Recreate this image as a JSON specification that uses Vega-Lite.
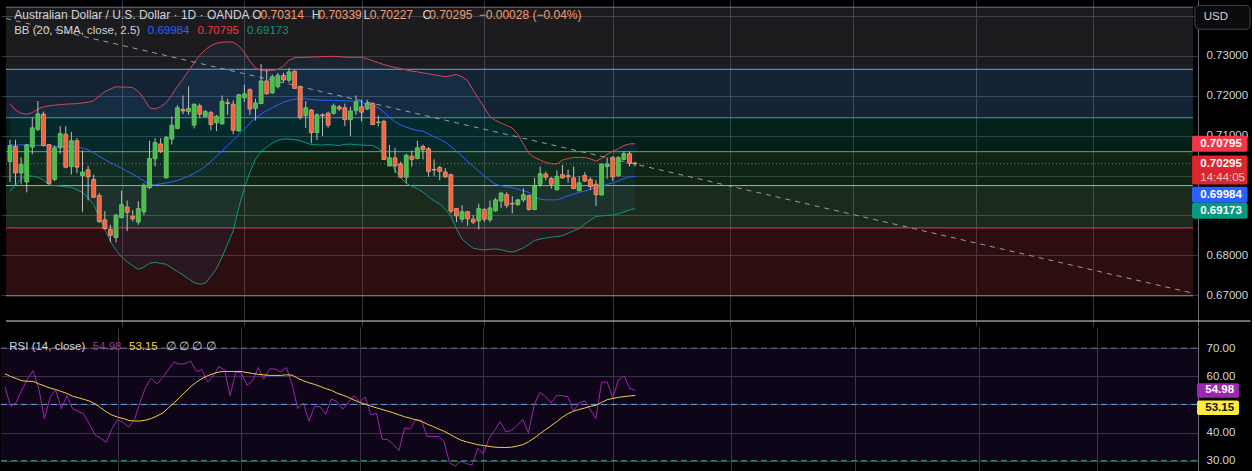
{
  "$schema": "https://vega.github.io/schema/vega-lite/v6.json",
  "background": "#000000",
  "padding": 0,
  "spacing": 1,
  "bounds": "flush",
  "config": {
    "view": {"stroke": null},
    "text": {"font": "Liberation Sans"},
    "axis": {"labelFont": "Liberation Sans"}
  },
  "datasets": {
    "bars": [
      {"t":0,"open":0.70346,"high":0.70896,"low":0.69836,"close":0.70750,"upper":0.71801,"basis":0.70762,"lower":0.69609,"rsi":56.2,"ma":60.9},
      {"t":1,"open":0.70726,"high":0.70896,"low":0.69755,"close":0.70063,"upper":0.71641,"basis":0.70762,"lower":0.69755,"rsi":49.3,"ma":59.9},
      {"t":2,"open":0.70063,"high":0.70451,"low":0.69780,"close":0.70281,"upper":0.71558,"basis":0.70767,"lower":0.69913,"rsi":50.7,"ma":59.2},
      {"t":3,"open":0.69836,"high":0.70791,"low":0.69577,"close":0.70767,"upper":0.71534,"basis":0.70767,"lower":0.69993,"rsi":55.1,"ma":58.4},
      {"t":4,"open":0.70710,"high":0.71454,"low":0.70532,"close":0.71195,"upper":0.71575,"basis":0.70762,"lower":0.69985,"rsi":59.0,"ma":58.2},
      {"t":5,"open":0.71155,"high":0.71864,"low":0.71114,"close":0.71543,"upper":0.71665,"basis":0.70757,"lower":0.69954,"rsi":62.0,"ma":58.2},
      {"t":6,"open":0.71535,"high":0.71600,"low":0.70726,"close":0.70750,"upper":0.71721,"basis":0.70750,"lower":0.69888,"rsi":55.7,"ma":57.3},
      {"t":7,"open":0.70775,"high":0.70791,"low":0.69780,"close":0.69796,"upper":0.71745,"basis":0.70743,"lower":0.69767,"rsi":45.0,"ma":56.6},
      {"t":8,"open":0.69901,"high":0.70750,"low":0.69860,"close":0.70694,"upper":0.71762,"basis":0.70733,"lower":0.69748,"rsi":52.4,"ma":55.8},
      {"t":9,"open":0.70694,"high":0.71236,"low":0.70548,"close":0.71050,"upper":0.71777,"basis":0.70726,"lower":0.69735,"rsi":55.1,"ma":55.3},
      {"t":10,"open":0.71034,"high":0.71236,"low":0.70184,"close":0.70208,"upper":0.71786,"basis":0.70726,"lower":0.69718,"rsi":48.5,"ma":54.6},
      {"t":11,"open":0.70225,"high":0.71090,"low":0.70022,"close":0.70872,"upper":0.71794,"basis":0.70718,"lower":0.69699,"rsi":53.1,"ma":53.9},
      {"t":12,"open":0.70872,"high":0.70936,"low":0.70063,"close":0.70208,"upper":0.71801,"basis":0.70709,"lower":0.69646,"rsi":48.5,"ma":52.9},
      {"t":13,"open":0.69998,"high":0.70629,"low":0.69092,"close":0.70087,"upper":0.71818,"basis":0.70689,"lower":0.69573,"rsi":47.6,"ma":52.4},
      {"t":14,"open":0.70144,"high":0.70241,"low":0.69375,"close":0.69966,"upper":0.71835,"basis":0.70641,"lower":0.69439,"rsi":46.5,"ma":51.8},
      {"t":15,"open":0.69901,"high":0.70022,"low":0.69432,"close":0.69456,"upper":0.71874,"basis":0.70568,"lower":0.69269,"rsi":43.0,"ma":51.2},
      {"t":16,"open":0.69497,"high":0.69561,"low":0.68809,"close":0.68849,"upper":0.71988,"basis":0.70483,"lower":0.68954,"rsi":39.1,"ma":50.2},
      {"t":17,"open":0.68890,"high":0.69108,"low":0.68647,"close":0.68671,"upper":0.72102,"basis":0.70398,"lower":0.68662,"rsi":38.0,"ma":48.8},
      {"t":18,"open":0.68647,"high":0.68768,"low":0.68339,"close":0.68501,"upper":0.72165,"basis":0.70325,"lower":0.68347,"rsi":36.6,"ma":47.4},
      {"t":19,"open":0.68445,"high":0.69035,"low":0.68323,"close":0.69011,"upper":0.72223,"basis":0.70252,"lower":0.68129,"rsi":41.3,"ma":46.2},
      {"t":20,"open":0.68946,"high":0.69618,"low":0.68930,"close":0.69270,"upper":0.72214,"basis":0.70180,"lower":0.67959,"rsi":44.6,"ma":45.5},
      {"t":21,"open":0.69213,"high":0.69375,"low":0.68607,"close":0.69076,"upper":0.72214,"basis":0.70107,"lower":0.67838,"rsi":43.6,"ma":45.0},
      {"t":22,"open":0.68979,"high":0.69132,"low":0.68849,"close":0.68914,"upper":0.72199,"basis":0.70034,"lower":0.67740,"rsi":41.9,"ma":44.3},
      {"t":23,"open":0.68833,"high":0.69359,"low":0.68768,"close":0.69173,"upper":0.72102,"basis":0.69949,"lower":0.67650,"rsi":44.6,"ma":44.1},
      {"t":24,"open":0.69092,"high":0.69804,"low":0.69011,"close":0.69755,"upper":0.71922,"basis":0.69864,"lower":0.67704,"rsi":50.7,"ma":44.1},
      {"t":25,"open":0.69699,"high":0.70872,"low":0.69658,"close":0.70427,"upper":0.71697,"basis":0.69779,"lower":0.67801,"rsi":56.2,"ma":44.4},
      {"t":26,"open":0.70419,"high":0.70936,"low":0.70225,"close":0.70823,"upper":0.71665,"basis":0.69767,"lower":0.67825,"rsi":59.3,"ma":45.0},
      {"t":27,"open":0.70791,"high":0.70936,"low":0.70564,"close":0.70605,"upper":0.71721,"basis":0.69791,"lower":0.67801,"rsi":57.3,"ma":45.9},
      {"t":28,"open":0.69941,"high":0.70993,"low":0.69925,"close":0.70953,"upper":0.71830,"basis":0.69815,"lower":0.67777,"rsi":59.5,"ma":46.9},
      {"t":29,"open":0.70912,"high":0.71479,"low":0.70775,"close":0.71260,"upper":0.72012,"basis":0.69840,"lower":0.67680,"rsi":62.3,"ma":48.7},
      {"t":30,"open":0.71179,"high":0.71762,"low":0.71155,"close":0.71697,"upper":0.72231,"basis":0.69876,"lower":0.67595,"rsi":65.0,"ma":50.5},
      {"t":31,"open":0.71656,"high":0.72004,"low":0.71535,"close":0.71616,"upper":0.72413,"basis":0.69925,"lower":0.67510,"rsi":64.3,"ma":52.4},
      {"t":32,"open":0.71600,"high":0.72231,"low":0.71519,"close":0.71681,"upper":0.72619,"basis":0.69985,"lower":0.67413,"rsi":64.5,"ma":54.4},
      {"t":33,"open":0.71260,"high":0.71802,"low":0.71179,"close":0.71786,"upper":0.72825,"basis":0.70058,"lower":0.67316,"rsi":65.4,"ma":56.3},
      {"t":34,"open":0.71745,"high":0.71802,"low":0.71438,"close":0.71535,"upper":0.73007,"basis":0.70131,"lower":0.67279,"rsi":61.7,"ma":57.9},
      {"t":35,"open":0.71479,"high":0.71640,"low":0.71454,"close":0.71600,"upper":0.73152,"basis":0.70228,"lower":0.67303,"rsi":62.3,"ma":59.2},
      {"t":36,"open":0.71576,"high":0.71616,"low":0.71131,"close":0.71276,"upper":0.73250,"basis":0.70349,"lower":0.67473,"rsi":57.9,"ma":60.2},
      {"t":37,"open":0.71317,"high":0.71519,"low":0.71114,"close":0.71479,"upper":0.73311,"basis":0.70483,"lower":0.67667,"rsi":60.1,"ma":60.9},
      {"t":38,"open":0.71292,"high":0.72004,"low":0.71276,"close":0.71859,"upper":0.73335,"basis":0.70616,"lower":0.67959,"rsi":63.4,"ma":61.5},
      {"t":39,"open":0.71826,"high":0.71923,"low":0.71519,"close":0.71802,"upper":0.73347,"basis":0.70750,"lower":0.68286,"rsi":62.3,"ma":61.7},
      {"t":40,"open":0.71786,"high":0.71883,"low":0.71034,"close":0.71131,"upper":0.73335,"basis":0.70884,"lower":0.68614,"rsi":53.1,"ma":61.7},
      {"t":41,"open":0.71114,"high":0.72045,"low":0.71098,"close":0.72021,"upper":0.73250,"basis":0.71017,"lower":0.69197,"rsi":61.5,"ma":61.7},
      {"t":42,"open":0.71948,"high":0.72271,"low":0.71843,"close":0.72045,"upper":0.73080,"basis":0.71163,"lower":0.69682,"rsi":61.2,"ma":61.7},
      {"t":43,"open":0.72150,"high":0.72182,"low":0.71519,"close":0.71665,"upper":0.72862,"basis":0.71309,"lower":0.70082,"rsi":56.8,"ma":61.3},
      {"t":44,"open":0.71681,"high":0.71923,"low":0.71373,"close":0.71818,"upper":0.72692,"basis":0.71442,"lower":0.70410,"rsi":58.4,"ma":61.0},
      {"t":45,"open":0.71802,"high":0.72789,"low":0.71786,"close":0.72368,"upper":0.72631,"basis":0.71539,"lower":0.70597,"rsi":63.1,"ma":60.7},
      {"t":46,"open":0.72368,"high":0.72651,"low":0.72021,"close":0.72045,"upper":0.72619,"basis":0.71624,"lower":0.70713,"rsi":59.0,"ma":60.5},
      {"t":47,"open":0.72069,"high":0.72530,"low":0.72045,"close":0.72474,"upper":0.72631,"basis":0.71697,"lower":0.70811,"rsi":62.6,"ma":60.3},
      {"t":48,"open":0.72223,"high":0.72571,"low":0.72182,"close":0.72506,"upper":0.72655,"basis":0.71770,"lower":0.70883,"rsi":62.6,"ma":60.3},
      {"t":49,"open":0.72506,"high":0.72571,"low":0.72328,"close":0.72393,"upper":0.72740,"basis":0.71835,"lower":0.70913,"rsi":61.5,"ma":60.3},
      {"t":50,"open":0.72385,"high":0.72692,"low":0.72328,"close":0.72595,"upper":0.72886,"basis":0.71879,"lower":0.70913,"rsi":63.1,"ma":60.5},
      {"t":51,"open":0.72611,"high":0.72635,"low":0.72166,"close":0.72182,"upper":0.72947,"basis":0.71908,"lower":0.70896,"rsi":57.3,"ma":60.4},
      {"t":52,"open":0.72223,"high":0.72247,"low":0.71398,"close":0.71454,"upper":0.72959,"basis":0.71920,"lower":0.70871,"rsi":48.5,"ma":59.3},
      {"t":53,"open":0.71503,"high":0.71859,"low":0.71195,"close":0.71697,"upper":0.72959,"basis":0.71920,"lower":0.70823,"rsi":50.5,"ma":58.4},
      {"t":54,"open":0.71640,"high":0.71665,"low":0.70807,"close":0.71074,"upper":0.72966,"basis":0.71903,"lower":0.70774,"rsi":44.1,"ma":57.7},
      {"t":55,"open":0.71074,"high":0.71559,"low":0.70888,"close":0.71519,"upper":0.72971,"basis":0.71891,"lower":0.70769,"rsi":49.3,"ma":57.1},
      {"t":56,"open":0.71519,"high":0.71559,"low":0.70993,"close":0.71495,"upper":0.72976,"basis":0.71884,"lower":0.70762,"rsi":49.1,"ma":56.4},
      {"t":57,"open":0.71559,"high":0.71600,"low":0.71195,"close":0.71260,"upper":0.72983,"basis":0.71884,"lower":0.70774,"rsi":46.5,"ma":55.6},
      {"t":58,"open":0.71559,"high":0.71802,"low":0.71519,"close":0.71745,"upper":0.72983,"basis":0.71879,"lower":0.70762,"rsi":52.0,"ma":55.0},
      {"t":59,"open":0.71721,"high":0.71762,"low":0.71616,"close":0.71665,"upper":0.72976,"basis":0.71876,"lower":0.70750,"rsi":50.9,"ma":54.0},
      {"t":60,"open":0.71697,"high":0.71802,"low":0.71236,"close":0.71398,"upper":0.72966,"basis":0.71871,"lower":0.70779,"rsi":48.3,"ma":53.3},
      {"t":61,"open":0.71398,"high":0.71721,"low":0.70993,"close":0.71616,"upper":0.72959,"basis":0.71866,"lower":0.70786,"rsi":50.7,"ma":52.5},
      {"t":62,"open":0.71624,"high":0.72004,"low":0.71519,"close":0.71843,"upper":0.72959,"basis":0.71859,"lower":0.70774,"rsi":53.1,"ma":51.6},
      {"t":63,"open":0.71721,"high":0.71899,"low":0.71357,"close":0.71584,"upper":0.72959,"basis":0.71830,"lower":0.70762,"rsi":50.9,"ma":50.7},
      {"t":64,"open":0.71665,"high":0.71899,"low":0.71640,"close":0.71802,"upper":0.72922,"basis":0.71794,"lower":0.70755,"rsi":52.6,"ma":50.1},
      {"t":65,"open":0.71802,"high":0.71826,"low":0.71260,"close":0.71276,"upper":0.72874,"basis":0.71757,"lower":0.70750,"rsi":46.3,"ma":49.4},
      {"t":66,"open":0.71325,"high":0.71495,"low":0.71236,"close":0.71341,"upper":0.72825,"basis":0.71697,"lower":0.70677,"rsi":46.9,"ma":48.8},
      {"t":67,"open":0.71357,"high":0.71398,"low":0.70386,"close":0.70403,"upper":0.72777,"basis":0.71587,"lower":0.70556,"rsi":37.7,"ma":48.2},
      {"t":68,"open":0.70241,"high":0.70767,"low":0.70225,"close":0.70443,"upper":0.72740,"basis":0.71454,"lower":0.70345,"rsi":37.5,"ma":47.6},
      {"t":69,"open":0.70443,"high":0.70694,"low":0.70063,"close":0.70241,"upper":0.72704,"basis":0.71345,"lower":0.70143,"rsi":35.8,"ma":47.0},
      {"t":70,"open":0.70289,"high":0.70346,"low":0.69941,"close":0.69958,"upper":0.72680,"basis":0.71272,"lower":0.69949,"rsi":33.6,"ma":46.3},
      {"t":71,"open":0.69958,"high":0.70548,"low":0.69804,"close":0.70508,"upper":0.72643,"basis":0.71211,"lower":0.69803,"rsi":41.6,"ma":45.6},
      {"t":72,"open":0.70483,"high":0.70629,"low":0.70225,"close":0.70403,"upper":0.72612,"basis":0.71163,"lower":0.69730,"rsi":41.3,"ma":45.1},
      {"t":73,"open":0.70427,"high":0.70872,"low":0.70403,"close":0.70694,"upper":0.72595,"basis":0.71126,"lower":0.69670,"rsi":44.7,"ma":44.5},
      {"t":74,"open":0.70726,"high":0.70775,"low":0.70403,"close":0.70645,"upper":0.72570,"basis":0.71109,"lower":0.69585,"rsi":44.3,"ma":44.0},
      {"t":75,"open":0.70670,"high":0.70710,"low":0.69966,"close":0.70103,"upper":0.72546,"basis":0.71041,"lower":0.69464,"rsi":38.6,"ma":43.0},
      {"t":76,"open":0.70152,"high":0.70403,"low":0.69982,"close":0.70136,"upper":0.72522,"basis":0.70968,"lower":0.69366,"rsi":38.6,"ma":42.2},
      {"t":77,"open":0.70200,"high":0.70241,"low":0.69885,"close":0.70103,"upper":0.72498,"basis":0.70908,"lower":0.69282,"rsi":38.6,"ma":41.3},
      {"t":78,"open":0.70087,"high":0.70184,"low":0.69941,"close":0.69966,"upper":0.72473,"basis":0.70835,"lower":0.69148,"rsi":36.9,"ma":40.5},
      {"t":79,"open":0.70022,"high":0.70047,"low":0.69051,"close":0.69108,"upper":0.72498,"basis":0.70726,"lower":0.68990,"rsi":29.2,"ma":39.4},
      {"t":80,"open":0.69173,"high":0.69189,"low":0.68833,"close":0.68987,"upper":0.72529,"basis":0.70604,"lower":0.68662,"rsi":28.1,"ma":38.3},
      {"t":81,"open":0.68906,"high":0.69254,"low":0.68825,"close":0.69092,"upper":0.72473,"basis":0.70483,"lower":0.68408,"rsi":29.8,"ma":37.3},
      {"t":82,"open":0.69092,"high":0.69116,"low":0.68744,"close":0.68914,"upper":0.72376,"basis":0.70349,"lower":0.68286,"rsi":28.9,"ma":36.7},
      {"t":83,"open":0.68906,"high":0.69011,"low":0.68785,"close":0.68833,"upper":0.72133,"basis":0.70228,"lower":0.68177,"rsi":28.5,"ma":36.2},
      {"t":84,"open":0.68865,"high":0.69294,"low":0.68647,"close":0.69173,"upper":0.71915,"basis":0.70107,"lower":0.68153,"rsi":34.4,"ma":35.7},
      {"t":85,"open":0.69149,"high":0.69189,"low":0.68833,"close":0.68906,"upper":0.71697,"basis":0.69985,"lower":0.68136,"rsi":32.5,"ma":35.4},
      {"t":86,"open":0.68890,"high":0.69375,"low":0.68833,"close":0.69189,"upper":0.71478,"basis":0.69876,"lower":0.68153,"rsi":38.0,"ma":35.1},
      {"t":87,"open":0.69116,"high":0.69432,"low":0.69092,"close":0.69391,"upper":0.71381,"basis":0.69779,"lower":0.68160,"rsi":40.8,"ma":34.8},
      {"t":88,"open":0.69359,"high":0.69593,"low":0.69189,"close":0.69561,"upper":0.71315,"basis":0.69743,"lower":0.68141,"rsi":43.9,"ma":34.7},
      {"t":89,"open":0.69521,"high":0.69577,"low":0.69189,"close":0.69254,"upper":0.71252,"basis":0.69718,"lower":0.68104,"rsi":40.2,"ma":34.7},
      {"t":90,"open":0.69302,"high":0.69480,"low":0.69051,"close":0.69286,"upper":0.71194,"basis":0.69694,"lower":0.68080,"rsi":40.8,"ma":34.8},
      {"t":91,"open":0.69270,"high":0.69416,"low":0.69238,"close":0.69391,"upper":0.71034,"basis":0.69658,"lower":0.68129,"rsi":42.5,"ma":35.2},
      {"t":92,"open":0.69391,"high":0.69682,"low":0.69335,"close":0.69521,"upper":0.70791,"basis":0.69621,"lower":0.68189,"rsi":44.7,"ma":35.7},
      {"t":93,"open":0.69497,"high":0.69521,"low":0.69124,"close":0.69149,"upper":0.70549,"basis":0.69573,"lower":0.68274,"rsi":39.9,"ma":36.7},
      {"t":94,"open":0.69149,"high":0.69941,"low":0.69132,"close":0.69739,"upper":0.70452,"basis":0.69464,"lower":0.68376,"rsi":49.6,"ma":38.0},
      {"t":95,"open":0.69780,"high":0.70225,"low":0.69715,"close":0.70047,"upper":0.70386,"basis":0.69408,"lower":0.68408,"rsi":54.2,"ma":39.5},
      {"t":96,"open":0.70039,"high":0.70103,"low":0.69877,"close":0.69958,"upper":0.70330,"basis":0.69391,"lower":0.68432,"rsi":52.9,"ma":41.0},
      {"t":97,"open":0.69925,"high":0.69958,"low":0.69674,"close":0.69780,"upper":0.70296,"basis":0.69391,"lower":0.68456,"rsi":50.5,"ma":42.4},
      {"t":98,"open":0.69642,"high":0.70128,"low":0.69626,"close":0.69982,"upper":0.70289,"basis":0.69391,"lower":0.68473,"rsi":53.1,"ma":43.8},
      {"t":99,"open":0.70022,"high":0.70265,"low":0.69917,"close":0.69941,"upper":0.70386,"basis":0.69439,"lower":0.68493,"rsi":53.1,"ma":45.4},
      {"t":100,"open":0.69998,"high":0.70144,"low":0.69820,"close":0.69966,"upper":0.70427,"basis":0.69495,"lower":0.68553,"rsi":52.7,"ma":46.7},
      {"t":101,"open":0.69941,"high":0.70225,"low":0.69658,"close":0.69674,"upper":0.70452,"basis":0.69536,"lower":0.68614,"rsi":47.6,"ma":47.6},
      {"t":102,"open":0.69618,"high":0.69982,"low":0.69602,"close":0.69820,"upper":0.70452,"basis":0.69578,"lower":0.68674,"rsi":50.5,"ma":48.2},
      {"t":103,"open":0.69998,"high":0.70087,"low":0.69836,"close":0.69860,"upper":0.70452,"basis":0.69609,"lower":0.68784,"rsi":51.3,"ma":48.7},
      {"t":104,"open":0.69901,"high":0.69958,"low":0.69642,"close":0.69723,"upper":0.70418,"basis":0.69651,"lower":0.68882,"rsi":48.0,"ma":49.3},
      {"t":105,"open":0.69780,"high":0.69885,"low":0.69238,"close":0.69521,"upper":0.70362,"basis":0.69694,"lower":0.68978,"rsi":45.0,"ma":49.7},
      {"t":106,"open":0.69513,"high":0.70305,"low":0.69497,"close":0.70289,"upper":0.70427,"basis":0.69731,"lower":0.68990,"rsi":57.9,"ma":50.7},
      {"t":107,"open":0.70225,"high":0.70451,"low":0.69917,"close":0.70289,"upper":0.70532,"basis":0.69779,"lower":0.69002,"rsi":57.9,"ma":51.7},
      {"t":108,"open":0.70451,"high":0.70483,"low":0.69860,"close":0.69966,"upper":0.70612,"basis":0.69815,"lower":0.69010,"rsi":52.4,"ma":52.1},
      {"t":109,"open":0.69998,"high":0.70483,"low":0.69966,"close":0.70451,"upper":0.70670,"basis":0.69864,"lower":0.69039,"rsi":58.7,"ma":52.5},
      {"t":110,"open":0.70403,"high":0.70613,"low":0.70386,"close":0.70548,"upper":0.70750,"basis":0.69925,"lower":0.69088,"rsi":60.1,"ma":52.8},
      {"t":111,"open":0.70548,"high":0.70605,"low":0.70225,"close":0.70305,"upper":0.70791,"basis":0.69961,"lower":0.69136,"rsi":55.7,"ma":53.0},
      {"t":112,"open":0.70314,"high":0.70339,"low":0.70227,"close":0.70295,"upper":0.70795,"basis":0.69984,"lower":0.69173,"rsi":54.98,"ma":53.15}
    ],
    "zones": [
      {"zone":"0-0.236","top":0.74214,"bottom":0.72660},
      {"zone":"0.236-0.382","top":0.72660,"bottom":0.71447},
      {"zone":"0.382-0.5","top":0.71447,"bottom":0.70597},
      {"zone":"0.5-0.618","top":0.70597,"bottom":0.69748},
      {"zone":"0.618-0.786","top":0.69748,"bottom":0.68687},
      {"zone":"0.786-1","top":0.68687,"bottom":0.66988}
    ],
    "levels": [
      {"level":"0","price":0.74214},
      {"level":"0.236","price":0.72660},
      {"level":"0.382","price":0.71447},
      {"level":"0.5","price":0.70597},
      {"level":"0.618","price":0.69748},
      {"level":"0.786","price":0.68687},
      {"level":"1","price":0.66988}
    ],
    "trend": [
      {"t":-0.71,"price":0.73930},
      {"t":211.97,"price":0.67053}
    ]
  },
  "data": {"name": "bars"},
  "vconcat": [
    {
      "width": 1197,
      "height": 326,
      "resolve": {"axis": {"x": "independent", "y": "independent"}},
      "layer": [
        {
          "data": {"name": "zones"},
          "mark": {"type": "rect", "fillOpacity": 0.3},
          "encoding": {
            "x": {"datum": -0.71, "type": "quantitative", "scale": {"domain": [-0.71, 211.97], "nice": false, "zero": false}, "axis": null},
            "x2": {"datum": 211.97},
            "y": {"field": "top", "type": "quantitative", "scale": {"domain": [0.66357, 0.742694], "nice": false, "zero": false},
              "axis": {"orient": "right", "values": [0.67, 0.68, 0.69, 0.70, 0.71, 0.72, 0.73, 0.74], "grid": true, "gridColor": "#37373e", "labels": false, "ticks": false, "domain": false, "title": null}},
            "y2": {"field": "bottom"},
            "fill": {"field": "zone", "type": "nominal", "legend": null,
              "scale": {"domain": ["0-0.236", "0.236-0.382", "0.382-0.5", "0.5-0.618", "0.618-0.786", "0.786-1"],
                "range": ["#5d5d64", "#4378ad", "#0d6b5a", "#32783c", "#5d8c5d", "#932b35"]}}
          }
        },
        {
          "data": {"name": "levels"},
          "mark": {"type": "rule", "strokeWidth": 1},
          "encoding": {
            "x": {"datum": -0.71, "axis": null},
            "x2": {"datum": 211.97},
            "y": {"field": "price", "type": "quantitative", "axis": null},
            "stroke": {"field": "level", "type": "nominal", "legend": null,
              "scale": {"domain": ["0", "0.236", "0.382", "0.5", "0.618", "0.786", "1"],
                "range": ["#6a7590", "#6aa6e0", "#2fa88e", "#56b35c", "#82c882", "#e0404f", "#8c8c90"]}}
          }
        },
        {
          "mark": {"type": "area", "color": "#2196f3", "opacity": 0.08},
          "encoding": {
            "x": {"field": "t", "type": "quantitative", "axis": null},
            "y": {"field": "upper", "type": "quantitative", "axis": null},
            "y2": {"field": "lower"}
          }
        },
        {
          "mark": {"type": "line", "color": "#d84457", "strokeWidth": 1},
          "encoding": {"x": {"field": "t", "type": "quantitative", "axis": null}, "y": {"field": "upper", "type": "quantitative", "axis": null}}
        },
        {
          "mark": {"type": "line", "color": "#2962ff", "strokeWidth": 1},
          "encoding": {"x": {"field": "t", "type": "quantitative", "axis": null}, "y": {"field": "basis", "type": "quantitative", "axis": null}}
        },
        {
          "mark": {"type": "line", "color": "#089981", "strokeWidth": 1},
          "encoding": {"x": {"field": "t", "type": "quantitative", "axis": null}, "y": {"field": "lower", "type": "quantitative", "axis": null}}
        },
        {
          "data": {"name": "trend"},
          "mark": {"type": "line", "color": "#9a9ca5", "strokeWidth": 1, "strokeDash": [5, 5]},
          "encoding": {
            "x": {"field": "t", "type": "quantitative", "axis": null},
            "y": {"field": "price", "type": "quantitative", "axis": null}
          }
        },
        {
          "transform": [{"filter": "datum.t === 112"}],
          "mark": {"type": "rule", "color": "#c8643c", "strokeWidth": 1, "strokeDash": [1, 2.5]},
          "encoding": {
            "x": {"datum": -0.71, "axis": null},
            "x2": {"datum": 211.97},
            "y": {"field": "close", "type": "quantitative", "axis": null}
          }
        },
        {
          "mark": {"type": "rule", "color": "#bdbdbd", "strokeWidth": 1},
          "encoding": {
            "x": {"field": "t", "type": "quantitative",
              "axis": {"orient": "bottom", "values": [20, 42, 63, 85, 108, 129, 151, 173, 194], "grid": true, "gridColor": "#37373e", "labels": false, "ticks": false, "domain": false, "title": null}},
            "y": {"field": "low", "type": "quantitative",
              "axis": {"orient": "right", "values": [0.67, 0.68, 0.71, 0.72, 0.73], "format": ".5f", "grid": false, "ticks": false, "domain": true, "domainColor": "#6a6d78", "labelColor": "#d1d4dc", "labelFontSize": 11.5, "labelPadding": 8, "title": null}},
            "y2": {"field": "high"}
          }
        },
        {
          "mark": {"type": "bar", "size": 4, "strokeWidth": 0.7},
          "encoding": {
            "x": {"field": "t", "type": "quantitative", "axis": null},
            "y": {"field": "open", "type": "quantitative", "axis": null},
            "y2": {"field": "close"},
            "fill": {"condition": {"test": "datum.close >= datum.open", "value": "#4cbb4c"}, "value": "#f0643e"},
            "stroke": {"condition": {"test": "datum.close >= datum.open", "value": "#6fd66f"}, "value": "#ffa07e"}
          }
        },
        {
          "data": {"values": [{"label": "Australian Dollar / U.S. Dollar · 1D · OANDA"}]},
          "mark": {"type": "text", "align": "left", "baseline": "alphabetic", "fontSize": 12, "color": "#d1d4dc"},
          "encoding": {"x": {"datum": 0.76, "axis": null}, "y": {"datum": 0.7393, "axis": null}, "text": {"field": "label"}}
        },
        {
          "data": {"values": [{"label": "O"}]},
          "mark": {"type": "text", "align": "left", "baseline": "alphabetic", "fontSize": 12, "color": "#d1d4dc"},
          "encoding": {"x": {"datum": 43.41, "axis": null}, "y": {"datum": 0.7393, "axis": null}, "text": {"field": "label"}}
        },
        {
          "data": {"values": [{"label": "H"}]},
          "mark": {"type": "text", "align": "left", "baseline": "alphabetic", "fontSize": 12, "color": "#d1d4dc"},
          "encoding": {"x": {"datum": 54.07, "axis": null}, "y": {"datum": 0.7393, "axis": null}, "text": {"field": "label"}}
        },
        {
          "data": {"values": [{"label": "L"}]},
          "mark": {"type": "text", "align": "left", "baseline": "alphabetic", "fontSize": 12, "color": "#d1d4dc"},
          "encoding": {"x": {"datum": 63.35, "axis": null}, "y": {"datum": 0.7393, "axis": null}, "text": {"field": "label"}}
        },
        {
          "data": {"values": [{"label": "C"}]},
          "mark": {"type": "text", "align": "left", "baseline": "alphabetic", "fontSize": 12, "color": "#d1d4dc"},
          "encoding": {"x": {"datum": 73.92, "axis": null}, "y": {"datum": 0.7393, "axis": null}, "text": {"field": "label"}}
        },
        {
          "transform": [{"filter": "datum.t === 112"}],
          "mark": {"type": "text", "align": "left", "baseline": "alphabetic", "fontSize": 12, "color": "#f49a6e"},
          "encoding": {"x": {"datum": 44.9, "axis": null}, "y": {"datum": 0.7393, "axis": null}, "text": {"field": "open", "type": "quantitative", "format": ".5f"}}
        },
        {
          "transform": [{"filter": "datum.t === 112"}],
          "mark": {"type": "text", "align": "left", "baseline": "alphabetic", "fontSize": 12, "color": "#f49a6e"},
          "encoding": {"x": {"datum": 55.26, "axis": null}, "y": {"datum": 0.7393, "axis": null}, "text": {"field": "high", "type": "quantitative", "format": ".5f"}}
        },
        {
          "transform": [{"filter": "datum.t === 112"}],
          "mark": {"type": "text", "align": "left", "baseline": "alphabetic", "fontSize": 12, "color": "#f49a6e"},
          "encoding": {"x": {"datum": 64.45, "axis": null}, "y": {"datum": 0.7393, "axis": null}, "text": {"field": "low", "type": "quantitative", "format": ".5f"}}
        },
        {
          "transform": [{"filter": "datum.t === 112"}],
          "mark": {"type": "text", "align": "left", "baseline": "alphabetic", "fontSize": 12, "color": "#f49a6e"},
          "encoding": {"x": {"datum": 75.11, "axis": null}, "y": {"datum": 0.7393, "axis": null}, "text": {"field": "close", "type": "quantitative", "format": ".5f"}}
        },
        {
          "data": {"values": [{"label": "−0.00028 (−0.04%)"}]},
          "mark": {"type": "text", "align": "left", "baseline": "alphabetic", "fontSize": 12, "color": "#f49a6e"},
          "encoding": {"x": {"datum": 83.99, "axis": null}, "y": {"datum": 0.7393, "axis": null}, "text": {"field": "label"}}
        },
        {
          "data": {"values": [{"label": "BB (20, SMA, close, 2.5)"}]},
          "mark": {"type": "text", "align": "left", "baseline": "alphabetic", "fontSize": 11.5, "color": "#d1d4dc"},
          "encoding": {"x": {"datum": 0.76, "axis": null}, "y": {"datum": 0.73541, "axis": null}, "text": {"field": "label"}}
        },
        {
          "transform": [{"filter": "datum.t === 112"}],
          "mark": {"type": "text", "align": "left", "baseline": "alphabetic", "fontSize": 11.5, "color": "#2962ff"},
          "encoding": {"x": {"datum": 24.7, "axis": null}, "y": {"datum": 0.73541, "axis": null}, "text": {"field": "basis", "type": "quantitative", "format": ".5f"}}
        },
        {
          "transform": [{"filter": "datum.t === 112"}],
          "mark": {"type": "text", "align": "left", "baseline": "alphabetic", "fontSize": 11.5, "color": "#f23645"},
          "encoding": {"x": {"datum": 33.58, "axis": null}, "y": {"datum": 0.73541, "axis": null}, "text": {"field": "upper", "type": "quantitative", "format": ".5f"}}
        },
        {
          "transform": [{"filter": "datum.t === 112"}],
          "mark": {"type": "text", "align": "left", "baseline": "alphabetic", "fontSize": 11.5, "color": "#089981"},
          "encoding": {"x": {"datum": 42.47, "axis": null}, "y": {"datum": 0.73541, "axis": null}, "text": {"field": "lower", "type": "quantitative", "format": ".5f"}}
        },
        {
          "transform": [{"filter": "datum.t === 112"}],
          "mark": {"type": "bar", "orient": "horizontal", "size": 16, "color": "#f23645", "cornerRadius": 2},
          "encoding": {"x": {"datum": 211.8, "axis": null}, "x2": {"datum": 221.75}, "y": {"field": "upper", "type": "quantitative", "axis": null}}
        },
        {
          "transform": [{"filter": "datum.t === 112"}],
          "mark": {"type": "text", "align": "left", "baseline": "middle", "fontSize": 11.5, "fontWeight": "bold", "color": "#ffffff"},
          "encoding": {"x": {"datum": 213.27, "axis": null}, "y": {"field": "upper", "type": "quantitative", "axis": null}, "text": {"field": "upper", "type": "quantitative", "format": ".5f"}}
        },
        {
          "transform": [{"filter": "datum.t === 112"}],
          "mark": {"type": "bar", "orient": "horizontal", "size": 29, "yOffset": 6.2, "color": "#d9272d", "cornerRadius": 2},
          "encoding": {"x": {"datum": 211.8, "axis": null}, "x2": {"datum": 221.75}, "y": {"field": "close", "type": "quantitative", "axis": null}}
        },
        {
          "transform": [{"filter": "datum.t === 112"}],
          "mark": {"type": "text", "align": "left", "baseline": "middle", "fontSize": 11.5, "fontWeight": "bold", "color": "#ffffff"},
          "encoding": {"x": {"datum": 213.27, "axis": null}, "y": {"field": "close", "type": "quantitative", "axis": null}, "text": {"field": "close", "type": "quantitative", "format": ".5f"}}
        },
        {
          "transform": [{"filter": "datum.t === 112"}],
          "mark": {"type": "text", "align": "left", "baseline": "middle", "fontSize": 11.5, "yOffset": 14, "color": "#f5c4c4"},
          "encoding": {"x": {"datum": 213.27, "axis": null}, "y": {"field": "close", "type": "quantitative", "axis": null}, "text": {"value": "14:44:05"}}
        },
        {
          "transform": [{"filter": "datum.t === 112"}],
          "mark": {"type": "bar", "orient": "horizontal", "size": 16, "yOffset": 18.6, "color": "#2962ff", "cornerRadius": 2},
          "encoding": {"x": {"datum": 211.8, "axis": null}, "x2": {"datum": 221.75}, "y": {"field": "basis", "type": "quantitative", "axis": null}}
        },
        {
          "transform": [{"filter": "datum.t === 112"}],
          "mark": {"type": "text", "align": "left", "baseline": "middle", "fontSize": 11.5, "fontWeight": "bold", "yOffset": 18.6, "color": "#ffffff"},
          "encoding": {"x": {"datum": 213.27, "axis": null}, "y": {"field": "basis", "type": "quantitative", "axis": null}, "text": {"field": "basis", "type": "quantitative", "format": ".5f"}}
        },
        {
          "transform": [{"filter": "datum.t === 112"}],
          "mark": {"type": "bar", "orient": "horizontal", "size": 16, "yOffset": 2.3, "color": "#089981", "cornerRadius": 2},
          "encoding": {"x": {"datum": 211.8, "axis": null}, "x2": {"datum": 221.75}, "y": {"field": "lower", "type": "quantitative", "axis": null}}
        },
        {
          "transform": [{"filter": "datum.t === 112"}],
          "mark": {"type": "text", "align": "left", "baseline": "middle", "fontSize": 11.5, "fontWeight": "bold", "yOffset": 2.3, "color": "#ffffff"},
          "encoding": {"x": {"datum": 213.27, "axis": null}, "y": {"field": "lower", "type": "quantitative", "axis": null}, "text": {"field": "lower", "type": "quantitative", "format": ".5f"}}
        },
        {
          "data": {"values": [{"label": "USD"}]},
          "mark": {"type": "rect", "fill": "#0b0b0b", "stroke": "#434651", "strokeWidth": 1, "cornerRadius": 4},
          "encoding": {"x": {"datum": 212.33, "axis": null}, "x2": {"datum": 222.19}, "y": {"datum": 0.7426, "axis": null}, "y2": {"datum": 0.73663}}
        },
        {
          "data": {"values": [{"label": "USD"}]},
          "mark": {"type": "text", "align": "left", "baseline": "middle", "fontSize": 11.5, "color": "#d1d4dc"},
          "encoding": {"x": {"datum": 213.88, "axis": null}, "y": {"datum": 0.73961, "axis": null}, "text": {"field": "label"}}
        },
        {
          "data": {"values": [{"label": "pane separator"}]},
          "mark": {"type": "rule", "color": "#d9d9d9", "strokeWidth": 1},
          "encoding": {"x": {"datum": -0.71, "axis": null}, "x2": {"datum": 222.28}, "y": {"datum": 0.66357, "axis": null}}
        }
      ]
    },
    {
      "width": 1197,
      "height": 144,
      "resolve": {"axis": {"x": "independent", "y": "independent"}},
      "layer": [
        {
          "data": {"values": [{"top": 70, "bottom": 30}]},
          "mark": {"type": "rect", "fill": "#5a1e8c", "fillOpacity": 0.17},
          "encoding": {
            "x": {"datum": -0.71, "type": "quantitative", "scale": {"domain": [-0.71, 211.97], "nice": false, "zero": false}, "axis": null},
            "x2": {"datum": 211.97},
            "y": {"field": "top", "type": "quantitative", "scale": {"domain": [28.12, 75.72], "nice": false, "zero": false},
              "axis": {"orient": "right", "values": [30, 40, 50, 60, 70], "grid": true, "gridColor": "#37373e", "labels": false, "ticks": false, "domain": false, "title": null}},
            "y2": {"field": "bottom"}
          }
        },
        {
          "data": {"values": [{"band": "upper", "level": 70}, {"band": "middle", "level": 50}, {"band": "lower", "level": 30}]},
          "mark": {"type": "rule", "strokeWidth": 1, "strokeDash": [6, 4]},
          "encoding": {
            "x": {"datum": -0.71, "axis": null},
            "x2": {"datum": 211.97},
            "y": {"field": "level", "type": "quantitative", "axis": null},
            "stroke": {"field": "band", "type": "nominal", "legend": null,
              "scale": {"domain": ["upper", "middle", "lower"], "range": ["#b4b6bc", "#6e707a", "#b4b6bc"]}}
          }
        },
        {
          "mark": {"type": "line", "color": "#9c27b0", "strokeWidth": 1, "clip": true},
          "encoding": {
            "x": {"field": "t", "type": "quantitative",
              "axis": {"orient": "bottom", "values": [20, 42, 63, 85, 108, 129, 151, 173, 194], "grid": true, "gridColor": "#37373e", "labels": false, "ticks": false, "domain": false, "title": null}},
            "y": {"field": "rsi", "type": "quantitative",
              "axis": {"orient": "right", "values": [30, 40, 60, 70], "format": ".2f", "grid": false, "ticks": false, "domain": true, "domainColor": "#6a6d78", "labelColor": "#d1d4dc", "labelFontSize": 11.5, "labelPadding": 8, "title": null}}
          }
        },
        {
          "mark": {"type": "line", "color": "#f0d040", "strokeWidth": 1, "clip": true},
          "encoding": {"x": {"field": "t", "type": "quantitative", "axis": null}, "y": {"field": "ma", "type": "quantitative", "axis": null}}
        },
        {
          "data": {"values": [{"label": "RSI (14, close)"}]},
          "mark": {"type": "text", "align": "left", "baseline": "alphabetic", "fontSize": 11.5, "color": "#d1d4dc"},
          "encoding": {"x": {"datum": 0.76, "axis": null}, "y": {"datum": 69.27, "axis": null}, "text": {"field": "label"}}
        },
        {
          "transform": [{"filter": "datum.t === 112"}],
          "mark": {"type": "text", "align": "left", "baseline": "alphabetic", "fontSize": 11.5, "color": "#8b3fa5"},
          "encoding": {"x": {"datum": 15.58, "axis": null}, "y": {"datum": 69.27, "axis": null}, "text": {"field": "rsi", "type": "quantitative", "format": ".2f"}}
        },
        {
          "transform": [{"filter": "datum.t === 112"}],
          "mark": {"type": "text", "align": "left", "baseline": "alphabetic", "fontSize": 11.5, "color": "#f5d142"},
          "encoding": {"x": {"datum": 22.03, "axis": null}, "y": {"datum": 69.27, "axis": null}, "text": {"field": "ma", "type": "quantitative", "format": ".2f"}}
        },
        {
          "data": {"values": [{"label": "∅ ∅ ∅ ∅"}]},
          "mark": {"type": "text", "align": "left", "baseline": "alphabetic", "fontSize": 11.5, "color": "#d1d4dc"},
          "encoding": {"x": {"datum": 28.61, "axis": null}, "y": {"datum": 69.27, "axis": null}, "text": {"field": "label"}}
        },
        {
          "transform": [{"filter": "datum.t === 112"}],
          "mark": {"type": "bar", "orient": "horizontal", "size": 14.5, "color": "#9c27b0", "cornerRadius": 2},
          "encoding": {"x": {"datum": 211.8, "axis": null}, "x2": {"datum": 219.26}, "y": {"field": "rsi", "type": "quantitative", "axis": null}}
        },
        {
          "transform": [{"filter": "datum.t === 112"}],
          "mark": {"type": "text", "align": "left", "baseline": "middle", "fontSize": 11.5, "fontWeight": "bold", "color": "#ffffff"},
          "encoding": {"x": {"datum": 213.27, "axis": null}, "y": {"field": "rsi", "type": "quantitative", "axis": null}, "text": {"field": "rsi", "type": "quantitative", "format": ".2f"}}
        },
        {
          "transform": [{"filter": "datum.t === 112"}],
          "mark": {"type": "bar", "orient": "horizontal", "size": 14.5, "yOffset": 12.2, "color": "#ffeb3b", "cornerRadius": 2},
          "encoding": {"x": {"datum": 211.8, "axis": null}, "x2": {"datum": 219.26}, "y": {"field": "ma", "type": "quantitative", "axis": null}}
        },
        {
          "transform": [{"filter": "datum.t === 112"}],
          "mark": {"type": "text", "align": "left", "baseline": "middle", "fontSize": 11.5, "fontWeight": "bold", "yOffset": 12.2, "color": "#131722"},
          "encoding": {"x": {"datum": 213.27, "axis": null}, "y": {"field": "ma", "type": "quantitative", "axis": null}, "text": {"field": "ma", "type": "quantitative", "format": ".2f"}}
        }
      ]
    }
  ]
}
